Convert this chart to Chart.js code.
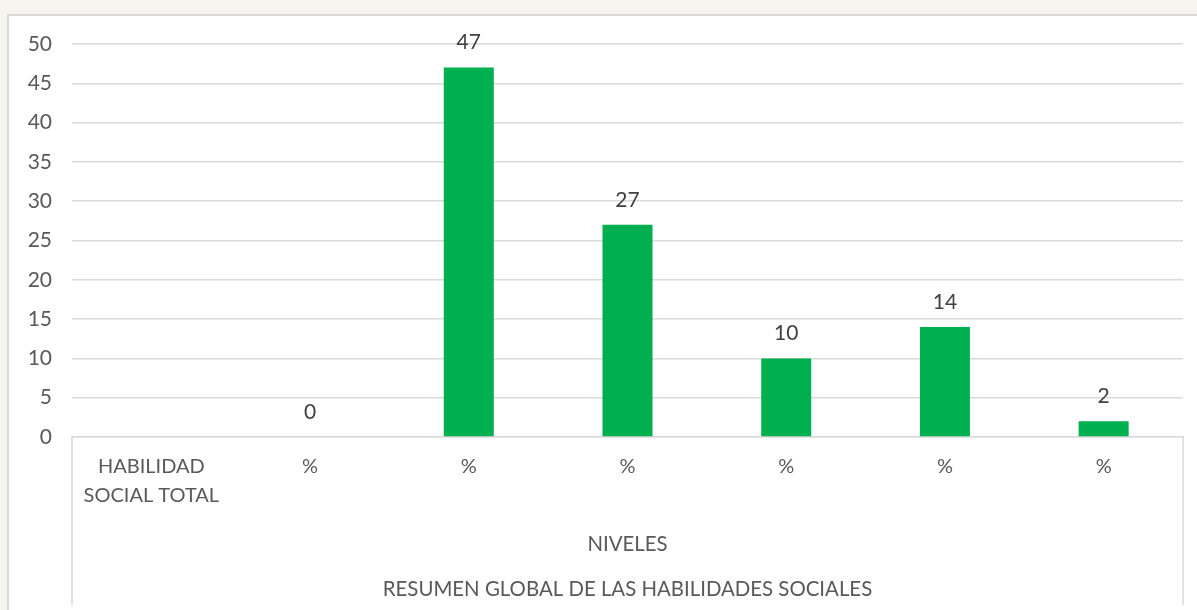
<!DOCTYPE html>
<html>
<head>
<meta charset="utf-8">
<script src="https://cdn.jsdelivr.net/npm/chart.js@4.4.0/dist/chart.umd.min.js"></script>
<style>
    html, body { margin: 0; padding: 0; background: #f7f5f0; }
    #wrap { width: 1197px; height: 610px; position: relative; }
</style>
</head>
<body>
<div id="wrap"><canvas id="resumenChart" width="1197" height="610"></canvas></div>
<script>
const categorias = [['HABILIDAD', 'SOCIAL TOTAL'], '%', '%', '%', '%', '%', '%'];
const valores = [null, 0, 47, 27, 10, 14, 2];
const ticksY = { min: 0, max: 50, step: 5 };
const tituloNivel = 'NIVELES';
const tituloGeneral = 'RESUMEN GLOBAL DE LAS HABILIDADES SOCIALES';

const fuente = 'Lato, "Open Sans", sans-serif';
const gris = '#d9d9d9';

// fondo blanco, marco del grafico y caja de categorias bajo el eje
const marcoPlugin = {
    id: 'marco',
    beforeDraw(chart) {
        const ctx = chart.ctx;
        ctx.save();
        ctx.fillStyle = '#ffffff';
        ctx.fillRect(8, 14, chart.width, chart.height);
        ctx.strokeStyle = gris;
        ctx.lineWidth = 2;
        ctx.strokeRect(8, 15, chart.width + 10, chart.height + 10);
        ctx.restore();
    },
    afterDraw(chart) {
        const ctx = chart.ctx;
        const area = chart.chartArea;
        ctx.save();
        ctx.strokeStyle = gris;
        ctx.lineWidth = 1.5;
        ctx.beginPath();
        ctx.moveTo(area.left, area.bottom);
        ctx.lineTo(area.left, 605);
        ctx.moveTo(area.right, area.bottom);
        ctx.lineTo(area.right, 605);
        ctx.stroke();

        ctx.fillStyle = '#595959';
        ctx.font = '20.4px ' + fuente;
        ctx.textAlign = 'center';
        ctx.textBaseline = 'middle';
        const cx = (area.left + area.right) / 2;
        ctx.fillText(tituloNivel, cx, 544);
        ctx.fillText(tituloGeneral, cx, 589);
        ctx.restore();
    }
};

// etiquetas de valor encima de cada barra
const etiquetasPlugin = {
    id: 'etiquetas',
    afterDatasetsDraw(chart) {
        const ctx = chart.ctx;
        const meta = chart.getDatasetMeta(0);
        ctx.save();
        ctx.fillStyle = '#404040';
        ctx.font = '21px ' + fuente;
        ctx.textAlign = 'center';
        ctx.textBaseline = 'middle';
        meta.data.forEach((bar, i) => {
            if (valores[i] === null) return;
            ctx.fillText(String(valores[i]), bar.x, bar.y - 25);
        });
        ctx.restore();
    }
};

const ctx = document.getElementById('resumenChart').getContext('2d');
const resumenChart = new Chart(ctx, {
    type: 'bar',
    data: {
        labels: categorias,
        datasets: [{
            data: valores,
            backgroundColor: '#00b050',
            borderWidth: 0,
            barPercentage: 0.9,
            categoryPercentage: 0.35
        }]
    },
    options: {
        responsive: false,
        animation: false,
        layout: {
            padding: { top: 44, right: 14, bottom: 0, left: 0 }
        },
        plugins: {
            legend: { display: false },
            tooltip: { enabled: false }
        },
        scales: {
            x: {
                grid: { display: false, drawTicks: false },
                border: { display: true, color: gris, width: 1.5 },
                ticks: {
                    color: '#595959',
                    font: { family: fuente, size: 20, lineHeight: 1.45 },
                    padding: 15,
                    maxRotation: 0,
                    autoSkip: false
                },
                afterFit(scale) { scale.height = 173; }
            },
            y: {
                min: ticksY.min,
                max: ticksY.max,
                grid: { color: gris, lineWidth: 1.5, drawTicks: false },
                border: { display: false },
                ticks: {
                    stepSize: ticksY.step,
                    color: '#595959',
                    font: { family: fuente, size: 21 },
                    padding: 20
                },
                afterFit(scale) { scale.width = 72; }
            }
        }
    },
    plugins: [marcoPlugin, etiquetasPlugin]
});
</script>
</body>
</html>
